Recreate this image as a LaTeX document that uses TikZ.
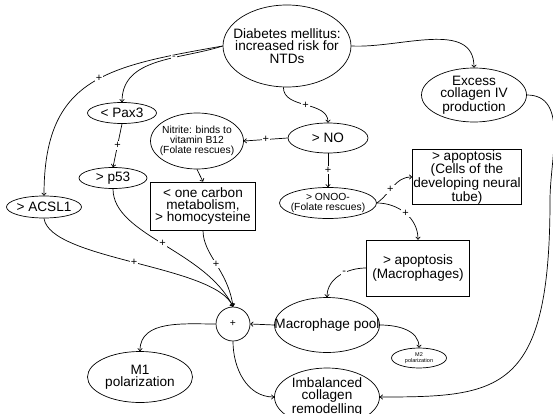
\documentclass[tikz,border=0pt]{standalone}
\usepackage{fontspec}
\setmainfont{Liberation Sans}
\usetikzlibrary{shapes.geometric,arrows.meta}
\begin{document}
\begin{tikzpicture}[x=1pt,y=1pt,
  every node/.style={align=center},
  big/.style={font=\fontsize{13.6}{12.4}\selectfont},
  mid/.style={font=\fontsize{10.3}{10}\selectfont},
  ell/.style={draw, ellipse, inner sep=-40pt, line width=0.7pt},
  box/.style={draw, rectangle, inner sep=1pt, line width=0.7pt},
  conn/.style={line width=0.7pt, -{To[length=3pt,width=5pt]}},
  lbl/.style={fill=white, inner sep=1pt, font=\fontsize{11}{11}\selectfont},
]
\useasboundingbox (0,0) rectangle (553,413);
% nodes
\node[ell, big, minimum width=128, minimum height=82] (dm) at (287,367) {Diabetes mellitus:\\increased risk for\\NTDs};
\node[ell, big, minimum width=105, minimum height=54] (col) at (474,318) {Excess\\collagen IV\\production};
\node[ell, big, minimum width=69, minimum height=21] (pax) at (122,300) {< Pax3};
\node[ell, big, minimum width=68, minimum height=21] (p53) at (113,235) {> p53};
\node[ell, big, minimum width=75, minimum height=22] (acsl) at (44,206) {> ACSL1};
\node[ell, mid, minimum width=93, minimum height=56] (nit) at (197,272) {Nitrite: binds to\\vitamin B12\\(Folate rescues)};
\node[box, big, minimum width=105, minimum height=48] (oc) at (203,207) {< one carbon\\metabolism,\\> homocysteine};
\node[ell, big, minimum width=80, minimum height=30] (no) at (328,275) {> NO};
\node[ell, mid, minimum width=97, minimum height=31] (onoo) at (328,210) {> ONOO-\\(Folate rescues)};
\node[box, big, minimum width=105, minimum height=51] (apc) at (467,236) {> apoptosis\\(Cells of the\\developing neural\\tube)};
\node[box, big, minimum width=103, minimum height=56] (apm) at (418,145) {> apoptosis\\(Macrophages)};
\node[ell, big, minimum width=105, minimum height=55] (pool) at (327,88) {Macrophage pool};
\node[ell, font=\fontsize{5.5}{5.5}\selectfont, minimum width=55, minimum height=20] (m2) at (419,55) {M2\\polarization};
\node[draw, circle, line width=0.7pt, minimum size=34, inner sep=0pt, mid] (plus) at (233,89) {+};
\node[ell, big, minimum width=105, minimum height=51] (m1) at (140,36) {M1\\polarization};
\node[ell, big, minimum width=105, minimum height=58] (imb) at (327,16) {Imbalanced\\collagen\\remodelling};
\coordinate (rt) at (550,213);
% connectors
\draw[conn] (dm.west) to[out=190,in=90,looseness=1.3] node[lbl,pos=0.45]{+} (acsl.north);
\draw[conn] (dm.west) to[out=198,in=90] node[lbl,pos=0.36]{-} (pax.north);
\draw[conn] (pax.south) -- node[lbl]{+} (p53.north);
\draw[conn] (p53.south) .. controls (113,178) and (205,163) .. node[lbl,pos=0.5]{+} (plus.north);
\draw[conn] (acsl.south) .. controls (50,153) and (215,148) .. node[lbl,pos=0.5]{+} (plus.north);
\draw[conn] (oc.south) .. controls (203,158) and (228,143) .. node[lbl,pos=0.5]{+} (plus.north);
\draw[conn] (dm.265) to[out=-90,in=90] node[lbl,pos=0.5]{+} (no.north);
\draw[conn] (no.west) -- node[lbl]{+} (nit.east);
\draw[conn] (nit.south) -- (oc.north);
\draw[conn] (no.south) -- node[lbl]{+} (onoo.north);
\draw[conn] (onoo.east) to[out=35,in=180] node[lbl,pos=0.4]{+} (apc.west);
\draw[conn] (onoo.east) to[out=0,in=90] node[lbl,pos=0.5]{+} (apm.north);
\draw[conn] (apm.west) to[out=180,in=90] node[lbl,pos=0.4]{-} (pool.north);
\draw[conn] (pool.west) -- (plus.east);
\draw[conn] (pool.east) to[out=0,in=90] (m2.north);
\draw[conn] (plus.west) to[out=180,in=90] (m1.north);
\draw[conn] (plus.south) to[out=-90,in=180] (imb.west);
\draw[conn] (dm.east) to[out=-3,in=90] (col.north);
\draw[conn] (col.east) to[out=0,in=90] (rt) .. controls (550,20) and (500,16) .. (imb.east);
\end{tikzpicture}
\end{document}
